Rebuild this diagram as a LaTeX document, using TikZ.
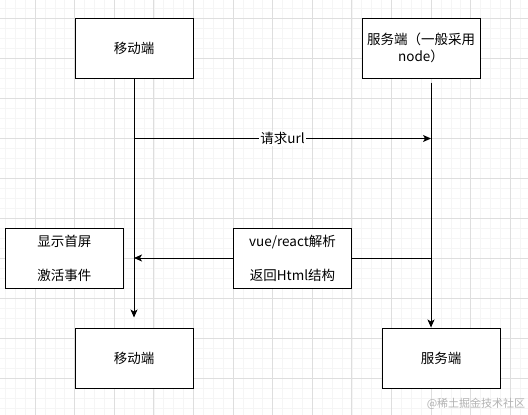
\documentclass[tikz,border=0pt]{standalone}
\usepackage{fontspec}
\setmainfont{Noto Sans CJK SC}
\usepackage{tikz}
\usetikzlibrary{calc,arrows.meta}

\begin{document}
\begin{tikzpicture}[x=1pt, y=-1pt,
		endbox/.style={draw, fill=white, line width=1pt, minimum width=118pt,
		minimum height=60pt, inner sep=0pt, align=center,
		font=\fontsize{13.5}{17}\selectfont},
		msglabel/.style={fill=white, inner sep=1pt, font=\fontsize{13.5}{17}\selectfont},
		minorline/.style={draw=black!4, line width=0.6pt},
		majorline/.style={draw=black!13, line width=0.8pt},
		>={Stealth[length=8pt, width=7pt, inset=2pt]},
		node distance=40pt
		]

		\useasboundingbox[fill=white] (0,0) rectangle (528,415);
		\foreach \i in {0,...,54}
			\draw[minorline] ({-4.6+\i*9.9},0) -- ({-4.6+\i*9.9},415);
		\foreach \j in {0,...,44}
			\draw[minorline] (0,{-22+\j*10}) -- (528,{-22+\j*10});
		\foreach \i in {0,...,14}
			\draw[majorline] ({-4.6+\i*39.6},0) -- ({-4.6+\i*39.6},415);
		\foreach \j in {0,...,11}
			\draw[majorline] (0,{-22+\j*40}) -- (528,{-22+\j*40});

		\node[endbox] (M0) at (134,48) {移动端};
		\node[endbox, right of = M0, xshift = 247pt] (S0) {服务端（一般采用\\node）};
		\node[endbox, below of = M0, yshift = -270pt] (M1) {移动端};
		\node[endbox, below of = S0, xshift = 20pt, yshift = -270pt] (S1) {服务端};
		\node[endbox, below of = M0, xshift = -69.5pt, yshift = -170pt] (R) {显示首屏\\[17pt]激活事件};
		\node[endbox, below of = M0, xshift = 158.5pt, yshift = -170pt] (V) {vue/react解析\\[17pt]返回Html结构};

		\coordinate[xshift = 10pt, yshift = -4pt] (st) at (S0.south);
		\coordinate[yshift = -60pt] (q) at (M0.south);

		\draw[line width=1pt, ->, shorten >=10pt] (M0.south) -- (M1.north);
		\draw[line width=1pt, ->] (st) -- (st |- S1.north);
		\draw[line width=1pt, ->] (q) -- (q -| st) node [midway, msglabel] {请求url};
		\draw[line width=1pt] (st |- V) -- (V.east);
		\draw[line width=1pt, ->] (V.west) -- (M0 |- V);

		\node[text=black!30, font=\fontsize{11}{13}\selectfont] (wm) at (476,404) {@稀土掘金技术社区};
	\end{tikzpicture}
\end{document}
